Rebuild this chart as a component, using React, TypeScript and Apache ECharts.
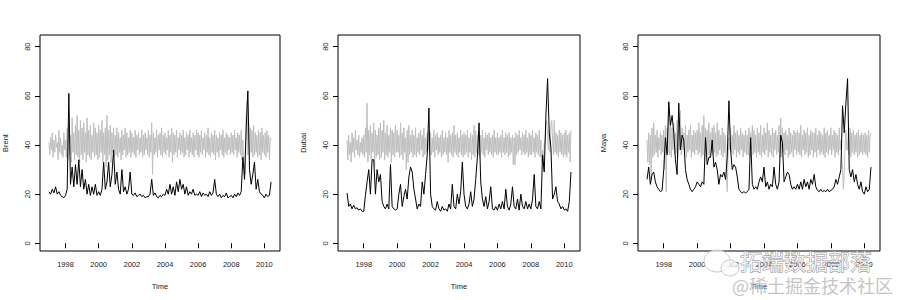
import React, { useEffect, useRef } from "react";
import * as echarts from "echarts";

// Black series: one value every 0.1 year from 1997.0 to 2010.4
// Grey series: one value every 0.05 year from 1997.0 to 2010.4
const START_YEAR = 1997.0;
const BLACK_STEP = 0.1;
const GREY_STEP = 0.05;

const xTickYears = [1998, 2000, 2002, 2004, 2006, 2008, 2010];
const yTickValues = [0, 20, 40, 60, 80];
const panelNames = ["Brent", "Dubai", "Maya"];

const brentBlack = [
  21, 20, 22, 20.5, 23, 20, 21, 19.5, 19, 18.5,
  19.5, 22, 61, 24, 31, 23, 32, 24, 34, 23,
  30, 22, 26, 20, 24, 19.5, 23, 20, 24, 19.5,
  21, 19.5, 22, 33, 22, 25, 33, 23, 28, 38,
  24, 29, 22, 20, 30, 21, 23, 20, 22, 29,
  20, 19.5, 20.5, 19, 19.5, 20, 19, 19.5, 18.5, 19,
  19, 20, 26, 19.5, 20.5, 19, 18.5, 19.5, 19, 20,
  19.5, 22, 20, 24, 20, 23, 19.5, 25, 21, 26,
  22, 24, 20, 23, 19.5, 21, 20, 22, 19.5, 20,
  19.5, 21, 19, 20.5, 19.5, 20, 19, 21, 19.5, 20.5,
  26, 20, 19, 20, 18.5, 19.5, 19, 20.5, 18.5, 19,
  19.5, 18.5, 20, 19, 20.5, 19.5, 21, 35, 26, 47,
  62, 30, 24, 28, 33, 22, 26, 21, 20, 19.5,
  18.5, 20, 19, 19.5, 25,
];
const brentGrey = [
  41, 36, 43, 38, 45, 35, 42, 37, 44, 39, 41, 34, 46, 37, 43, 36, 40, 35, 45, 38,
  42, 35, 47, 34, 49, 36, 44, 33, 51, 37, 45, 34, 48, 36, 52, 35, 46, 33, 50, 36,
  47, 34, 49, 37, 45, 33, 51, 36, 46, 35, 48, 34, 44, 37, 49, 35, 47, 36, 45, 34,
  48, 35, 46, 37, 50, 33, 45, 36, 47, 31, 52, 34, 46, 36, 48, 33, 45, 37, 47, 35,
  44, 36, 47, 35, 45, 37, 43, 34, 46, 36, 44, 38, 47, 35, 45, 36, 43, 37, 46, 35,
  45, 37, 43, 36, 46, 35, 44, 38, 45, 36, 43, 37, 46, 35, 44, 36, 45, 38, 43, 36,
  46, 35, 44, 37, 49, 28, 45, 36, 43, 37, 46, 35, 44, 38, 45, 36, 47, 35, 44, 37,
  45, 36, 43, 38, 46, 35, 44, 37, 47, 33, 45, 36, 44, 37, 46, 35, 43, 38, 45, 36,
  44, 37, 46, 35, 43, 36, 45, 38, 44, 35, 46, 37, 43, 36, 45, 35, 44, 38, 46, 36,
  45, 35, 44, 37, 46, 36, 43, 38, 45, 35, 44, 37, 47, 36, 43, 35, 45, 37, 44, 36,
  46, 34, 44, 37, 43, 35, 45, 38, 44, 36, 46, 35, 43, 37, 45, 36, 44, 38, 43, 36,
  45, 37, 44, 36, 46, 38, 43, 35, 45, 37, 44, 36, 46, 34, 42, 33, 30, 28, 52, 58,
  36, 49, 34, 47, 37, 46, 35, 48, 36, 45, 37, 44, 35, 46, 36, 45, 34, 47, 37, 44,
  36, 45, 35, 46, 37, 44, 34, 43, 42,
];

const dubaiBlack = [
  20.5, 15, 16, 14, 15.5, 14, 14.5, 13.5, 14, 13,
  13, 19.5, 25, 30, 20, 34, 34, 20, 30, 25,
  28, 17, 15, 14, 16, 14, 32, 15, 14, 13.5,
  14, 20, 24, 15, 19, 22, 18, 27, 31, 29,
  22, 18, 14, 16, 15, 25, 20, 28, 36, 55,
  20, 15, 14, 13.5, 17, 14, 13, 15, 13.5, 14,
  13, 16, 14, 24, 15, 14, 20, 16, 21, 33,
  20, 15, 14, 16, 21, 15, 18, 26, 35, 49,
  25, 18, 15, 19, 14, 17, 23, 14, 13.5, 15,
  13.5, 16, 14, 17, 14, 22, 15, 13.5, 16, 23,
  15, 14, 18, 13.5, 20, 15, 14, 17, 14, 16,
  14, 18, 28, 15, 14, 17, 14, 36, 29, 52,
  67, 45, 39, 18, 20, 23, 17, 16, 14, 15,
  13.5, 14, 13, 17, 29,
];
const dubaiGrey = [
  42, 34, 44, 36, 41, 33, 45, 37, 43, 35, 46, 38, 42, 36, 44, 35, 41, 37, 43, 36,
  44, 35, 47, 37, 57, 33, 46, 36, 48, 34, 45, 37, 49, 31, 46, 35, 44, 36, 47, 34,
  49, 35, 46, 37, 50, 34, 45, 36, 48, 35, 44, 37, 47, 33, 46, 36, 45, 35, 48, 37,
  46, 37, 44, 35, 49, 36, 45, 34, 47, 37, 43, 30, 46, 33, 48, 36, 44, 37, 46, 35,
  44, 36, 47, 35, 43, 37, 45, 36, 46, 38, 44, 35, 47, 36, 43, 37, 45, 38, 46, 36,
  45, 36, 43, 37, 46, 35, 44, 38, 45, 36, 43, 37, 44, 35, 46, 36, 43, 37, 45, 36,
  43, 33, 46, 37, 44, 36, 45, 35, 48, 37, 44, 36, 45, 35, 43, 37, 46, 36, 44, 35,
  45, 36, 44, 37, 46, 35, 43, 37, 45, 34, 44, 36, 48, 35, 46, 37, 44, 36, 45, 35,
  44, 37, 46, 36, 43, 35, 45, 38, 44, 36, 45, 37, 43, 36, 44, 35, 46, 37, 43, 36,
  45, 36, 43, 37, 44, 35, 46, 37, 43, 36, 45, 37, 44, 35, 45, 36, 43, 37, 44, 32,
  43, 32, 45, 36, 44, 37, 46, 38, 43, 36, 45, 37, 44, 36, 46, 37, 43, 35, 45, 36,
  44, 36, 46, 37, 43, 35, 45, 37, 44, 36, 46, 35, 42, 33, 38, 30, 40, 42, 48, 50,
  44, 38, 46, 37, 48, 50, 42, 36, 50, 37, 45, 36, 44, 35, 46, 37, 45, 36, 44, 35,
  45, 36, 46, 35, 44, 37, 45, 33, 46,
];

const mayaBlack = [
  26, 31, 24, 28, 29, 25, 23, 22, 21, 21.5,
  30, 43, 36, 57.5, 48, 52, 45, 34, 28, 57,
  38, 44, 42, 30, 26, 24, 22, 21, 22, 23,
  25, 24, 23, 25, 24, 43, 32, 35, 35, 42,
  31, 33, 30, 24, 28, 27, 29, 26, 35, 58,
  38, 30, 32, 31, 27, 22, 21, 20.5, 21, 20.5,
  21, 22, 43, 24, 22, 23, 22, 25, 27, 25,
  31, 23, 25, 22, 24, 23, 31, 24, 22, 25,
  44, 41, 25, 27, 29, 28, 24, 22, 23, 22,
  24, 22, 25, 22, 26, 23, 25, 22, 26, 24,
  28, 23, 21.5, 21, 22, 21, 21.5, 21, 22, 21,
  21.5, 22, 23, 26, 24, 27, 30, 56, 45, 57,
  67, 30, 27, 30, 25, 28, 24, 22, 25, 21,
  20, 23, 21, 22, 31,
];
const mayaGrey = [
  42, 33, 45, 32, 44, 26, 47, 35, 49, 36, 44, 37, 46, 35, 43, 38, 45, 36, 44, 37,
  46, 30, 48, 21, 47, 37, 58, 36, 50, 35, 47, 38, 49, 36, 45, 37, 50, 35, 46, 38,
  54, 36, 47, 38, 45, 36, 48, 35, 44, 37, 46, 38, 48, 35, 44, 37, 46, 36, 45, 38,
  46, 36, 49, 37, 45, 35, 48, 36, 52, 34, 47, 38, 46, 36, 49, 35, 45, 37, 47, 36,
  48, 37, 45, 35, 49, 36, 46, 38, 44, 36, 47, 35, 45, 37, 44, 30, 21, 36, 43, 38,
  47, 37, 44, 36, 48, 38, 45, 35, 46, 37, 44, 36, 47, 38, 45, 35, 44, 37, 46, 36,
  44, 36, 47, 35, 45, 38, 48, 36, 46, 37, 44, 35, 47, 37, 45, 36, 48, 35, 44, 37,
  47, 36, 45, 38, 49, 35, 46, 37, 44, 36, 47, 35, 45, 38, 46, 36, 44, 37, 48, 35,
  51, 35, 47, 37, 45, 36, 46, 38, 44, 35, 47, 36, 45, 37, 44, 35, 46, 38, 45, 36,
  46, 37, 45, 36, 48, 35, 44, 38, 46, 36, 45, 37, 47, 35, 44, 36, 46, 38, 45, 35,
  45, 37, 47, 35, 44, 38, 46, 36, 45, 37, 44, 36, 47, 35, 45, 37, 46, 36, 44, 38,
  47, 36, 44, 38, 46, 35, 45, 37, 44, 36, 47, 38, 42, 35, 30, 22, 28, 40, 46, 38,
  38, 45, 36, 47, 35, 45, 37, 46, 36, 44, 37, 45, 35, 46, 36, 44, 37, 45, 36, 44,
  37, 45, 36, 44, 35, 46, 37, 44, 45,
];

const blackSeries = [brentBlack, dubaiBlack, mayaBlack];
const greySeries = [brentGrey, dubaiGrey, mayaGrey];

const FONT = "'Liberation Sans', Arial, sans-serif";
const TEXT_COLOR = "#222";

function toPairs(values: number[], step: number) {
  return values.map((v, i) => [+(START_YEAR + i * step).toFixed(3), v]);
}

export default function App() {
  const ref = useRef<HTMLDivElement>(null);

  useEffect(() => {
    document.body.style.margin = "0";
    if (!ref.current) return;
    const chart = echarts.init(ref.current, undefined, { renderer: "svg" });

    const grids: any[] = [];
    const xAxes: any[] = [];
    const yAxes: any[] = [];
    const series: any[] = [];

    panelNames.forEach((name, k) => {
      const off = k * 300;
      grids.push({
        left: 38 + off,
        top: 35,
        width: 242,
        height: 216,
        show: true,
        borderColor: "#000",
        borderWidth: 1,
        backgroundColor: "transparent",
      });
      xAxes.push({
        type: "value",
        gridIndex: k,
        min: 1996.46,
        max: 2010.94,
        name: "Time",
        nameLocation: "middle",
        nameGap: 31,
        nameTextStyle: { fontFamily: FONT, fontSize: 7.5, color: TEXT_COLOR },
        axisLine: { show: false },
        splitLine: { show: false },
        axisTick: {
          show: true,
          length: 5,
          customValues: xTickYears,
          lineStyle: { color: "#000", width: 1 },
        },
        axisLabel: {
          show: true,
          customValues: xTickYears,
          margin: 9,
          fontFamily: FONT,
          fontSize: 7.5,
          color: TEXT_COLOR,
          formatter: (v: number) => String(Math.round(v)),
        },
      });
      yAxes.push({
        type: "value",
        gridIndex: k,
        min: -3.13,
        max: 84.76,
        name,
        nameLocation: "middle",
        nameGap: 31,
        nameRotate: 90,
        nameTextStyle: { fontFamily: FONT, fontSize: 7.5, color: TEXT_COLOR },
        axisLine: { show: false },
        splitLine: { show: false },
        axisTick: {
          show: true,
          length: 5,
          customValues: yTickValues,
          lineStyle: { color: "#000", width: 1 },
        },
        axisLabel: {
          show: true,
          customValues: yTickValues,
          rotate: 90,
          margin: 9,
          fontFamily: FONT,
          fontSize: 7.5,
          color: TEXT_COLOR,
        },
      });
      series.push({
        type: "line",
        xAxisIndex: k,
        yAxisIndex: k,
        data: toPairs(greySeries[k], GREY_STEP),
        showSymbol: false,
        symbol: "none",
        lineStyle: { color: "#bebebe", width: 1 },
        z: 2,
      });
      series.push({
        type: "line",
        xAxisIndex: k,
        yAxisIndex: k,
        data: toPairs(blackSeries[k], BLACK_STEP),
        showSymbol: false,
        symbol: "none",
        lineStyle: { color: "#000", width: 1 },
        z: 3,
      });
    });

    chart.setOption({
      animation: false,
      backgroundColor: "#fff",
      grid: grids,
      xAxis: xAxes,
      yAxis: yAxes,
      series,
      graphic: [
        {
          type: "ellipse",
          shape: { cx: 717, cy: 261, rx: 13, ry: 11 },
          style: { fill: "rgba(255,255,255,0.7)", stroke: "#c8c8c8", lineWidth: 1 },
          z: 100,
        },
        {
          type: "ellipse",
          shape: { cx: 730, cy: 268, rx: 9, ry: 8 },
          style: { fill: "rgba(255,255,255,0.7)", stroke: "#c8c8c8", lineWidth: 1 },
          z: 100,
        },
        {
          type: "text",
          x: 740,
          y: 260,
          style: {
            text: "拓端数据部落",
            font: "22px 'Noto Sans CJK SC'",
            fill: "rgba(255,255,255,0.75)",
            stroke: "#8a8a8a",
            lineWidth: 0.8,
            verticalAlign: "middle",
          },
          z: 101,
        },
        {
          type: "text",
          x: 732,
          y: 285,
          style: {
            text: "@稀土掘金技术社区",
            font: "18px 'Noto Sans CJK SC'",
            fill: "rgba(190,190,190,0.9)",
            verticalAlign: "middle",
          },
          z: 101,
        },
      ],
    });

    return () => chart.dispose();
  }, []);

  return <div ref={ref} style={{ width: 900, height: 300 }} />;
}
